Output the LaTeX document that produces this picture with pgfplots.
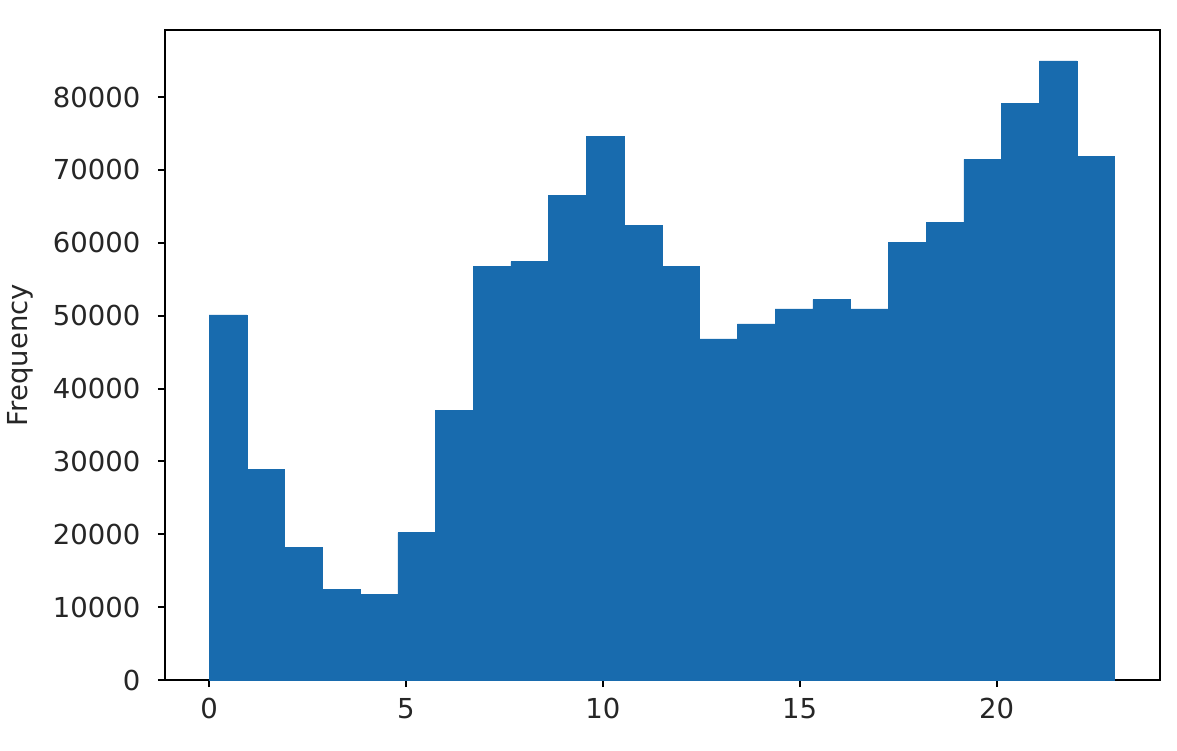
\documentclass[border=0pt]{standalone}
\usepackage{pgfplots}
\pgfplotsset{compat=1.18}
\usepackage{fontspec}
\setmainfont{DejaVu Sans}
\definecolor{histblue}{RGB}{24,107,174}
\begin{document}
\begin{tikzpicture}
\path[use as bounding box] (-66pt,-28pt) rectangle (404.8pt,272pt);
\begin{axis}[
    scale only axis,
    width=398pt, height=260pt,
    at={(0,0)}, anchor=south west,
    xmin=-1.12, xmax=24.15,
    ymin=0, ymax=89205,
    xtick={0,5,10,15,20},
    ytick={0,10000,20000,30000,40000,50000,60000,70000,80000},
    scaled y ticks=false,
    tick align=outside,
    major tick length=2.8pt,
    tick style={line width=0.8pt, black},
    xtick pos=bottom, ytick pos=left,
    axis line style={line width=0.8pt},
    /pgf/number format/assume math mode=true,
    /pgf/number format/fixed,
    /pgf/number format/1000 sep={},
    tick label style={font=\fontsize{11}{13}\selectfont, text=black!85},
    xticklabel style={yshift=-1pt},
    yticklabel style={xshift=-3.5pt},
    ylabel={Frequency},
    ylabel style={at={(axis description cs:-0.1457,0.5)}, anchor=center,
        font=\fontsize{11}{13}\selectfont, text=black!85},
]
\addplot[ybar interval, fill=histblue, draw=histblue, line width=0.2pt]
  coordinates {
    (0,50120) (0.9583,28916) (1.9167,18176) (2.875,12392) (3.8333,11704)
    (4.7917,20241) (5.75,37040) (6.7083,56730) (7.6667,57418) (8.625,66506)
    (9.5833,74630) (10.5417,62375) (11.5,56730) (12.4583,46816) (13.4167,48881)
    (14.375,50947) (15.3333,52186) (16.2917,50947) (17.25,60034) (18.2083,62788)
    (19.1667,71463) (20.125,79174) (21.0833,84957) (22.0417,71876) (23,71876)
  };
\end{axis}
\end{tikzpicture}
\end{document}
